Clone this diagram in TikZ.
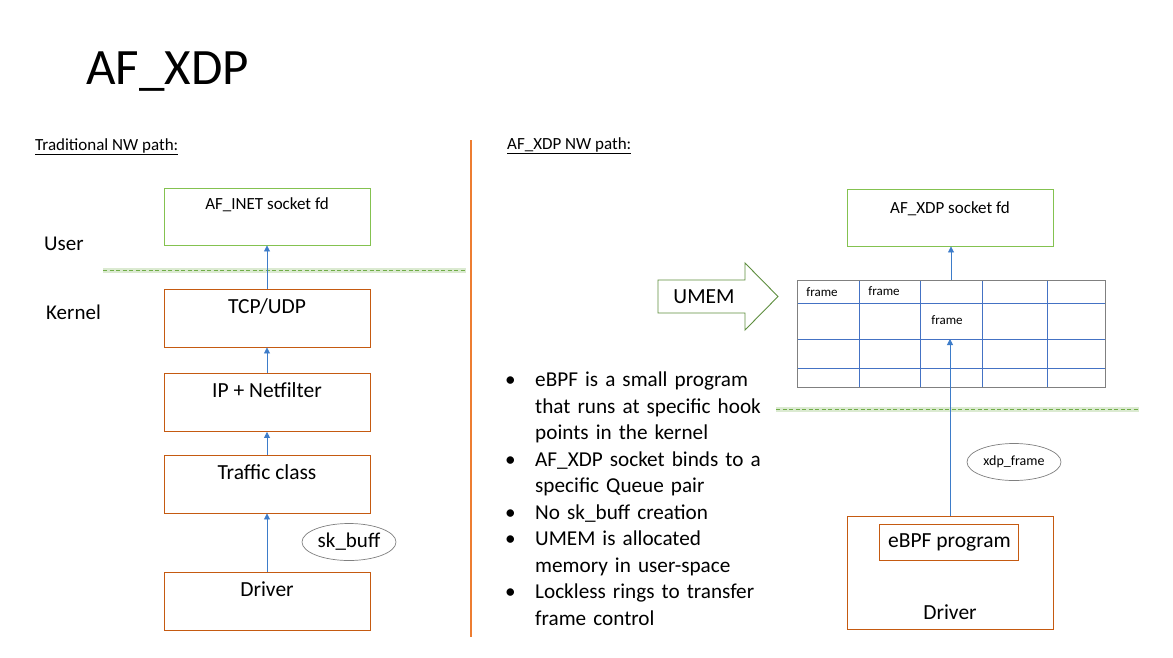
\documentclass[tikz,border=0pt]{standalone}
\usepackage{fontspec}
\setmainfont{Carlito}
\usepackage{enumitem}
\usetikzlibrary{arrows.meta,shapes.geometric}

\definecolor{boxorange}{HTML}{C55A11}
\definecolor{boxgreen}{HTML}{84C250}
\definecolor{flowblue}{HTML}{3D7CC9}
\definecolor{splitorange}{HTML}{ED7D31}
\definecolor{bubblegray}{HTML}{808080}
\definecolor{ringblue}{HTML}{4472C4}
\definecolor{umemgreen}{HTML}{5E8E3E}
\definecolor{rimgreen}{HTML}{70AD47}

\tikzset{
  kbox/.style={draw=boxorange, line width=0.9pt, minimum width=206pt, minimum height=58pt, inner sep=0pt},
  ubox/.style={draw=boxgreen, line width=0.9pt, minimum width=206pt, minimum height=57pt, inner sep=0pt},
  intext/.style={anchor=center, inner sep=0pt, font=\fontsize{21.5}{26}\selectfont},
  bubble/.style={ellipse, draw=bubblegray, line width=0.7pt, inner sep=0pt, minimum width=94pt, minimum height=37pt},
  flow/.style={draw=flowblue, line width=0.8pt, -{Triangle[width=6pt,length=6pt]}},
  glow/.style={draw=rimgreen!45, line width=5pt, opacity=0.55},
  rim/.style={draw=rimgreen, line width=0.9pt, dash pattern=on 4pt off 2.5pt},
  cell/.style={inner sep=0pt, font=\fontsize{13}{15}\selectfont}
}

\begin{document}
\begin{tikzpicture}[x=1pt, y=-1pt]
    \useasboundingbox[fill=white] (0,0) rectangle (1173,657);

    \node (title) [anchor=base west, inner sep=0pt, font=\fontsize{51}{60}\selectfont] at (86,84.3) {AF\_XDP};

    % traditional path
    \node (oldhead) [anchor=west, inner sep=0pt, font=\fontsize{17}{20}\selectfont] at (35,147) {\underline{Traditional NW path:}};
    \node (user) [anchor=west, inner sep=0pt, font=\fontsize{21}{25}\selectfont] at (44,244) {User};
    \node (kernel) [anchor=west, inner sep=0pt, font=\fontsize{21}{25}\selectfont] at (46,312) {Kernel};

    \node (inet) [ubox, label={[intext, font=\fontsize{17}{20}\selectfont, yshift=-17pt]north:AF\_INET socket fd}] at (267,216.5) {};
    \node (tcp) [kbox, label={[intext, yshift=-18pt]north:TCP/UDP}] at (267,318) {};
    \node (ipnf) [kbox, label={[intext, yshift=-17.5pt]north:IP + Netfilter}] at (267,402.5) {};
    \node (tc) [kbox, label={[intext, yshift=-17.5pt]north:Traffic class}] at (267,484) {};
    \node (drvL) [kbox, label={[intext, yshift=-18pt]north:Driver}] at (267,601) {};
    \node (skb) [bubble, font=\fontsize{21}{25}\selectfont] at (349,542) {sk\_buff};

    \draw[glow] (103,270) -- (466,270);
    \draw[rim] (103,270) -- (466,270);

    \draw[flow] (drvL.north) -- (tc.south);
    \draw[flow] (tc.north) -- (ipnf.south);
    \draw[flow] (ipnf.north) -- (tcp.south);
    \draw[flow] (tcp.north) -- (inet.south);

    \draw[draw=splitorange, line width=1.2pt] (471,140) -- (471,637);

    % af_xdp path
    \node (xdphead) [anchor=west, inner sep=0pt, font=\fontsize{17}{20}\selectfont] at (507,146) {\underline{AF\_XDP NW path:}};
    \node (xsock) [ubox, label={[intext, font=\fontsize{17}{20}\selectfont, yshift=-20pt]north:AF\_XDP socket fd}] at (950,217.5) {};

    \draw[draw=umemgreen, line width=0.9pt, fill=white] (658,280) -- (745,280) -- (745,263) -- (778,296.5) -- (745,330) -- (745,313) -- (658,313) -- cycle;
    \node (umem) [inner sep=0pt, font=\fontsize{21.5}{26}\selectfont] at (704,297) {UMEM};

    \node (ring) [draw=bubblegray, line width=0.8pt, minimum width=308pt, minimum height=107pt, inner sep=0pt] at (951,333.5) {};
    \foreach \gx in {859,920,982,1047}
        \draw[ringblue, line width=0.8pt] (\gx,280.5) -- (\gx,386.5);
    \foreach \gy in {303,339,368}
        \draw[ringblue, line width=0.8pt] (797.5,\gy) -- (1104.5,\gy);
    \draw[bubblegray, line width=0.8pt] (797,280) rectangle (1105,387);
    \node (f1) [cell] at (822,292) {frame};
    \node (f2) [cell] at (884,291) {frame};
    \node (f3) [cell] at (947,320) {frame};
    \coordinate (hit) at (951,339);

    \draw[glow] (776,409) -- (1139,409);
    \draw[rim] (776,409) -- (1139,409);

    \node (drvR) [kbox, minimum height=113pt, label={[intext, yshift=17pt]south:Driver}] at (950,572.5) {};
    \node (ebpf) [kbox, minimum width=139pt, minimum height=36pt, font=\fontsize{21.5}{26}\selectfont] at (948.5,542) {\hspace*{2pt}eBPF program};
    \node (xdpf) [bubble, font=\fontsize{14}{17}\selectfont] at (1014,462) {xdp\_frame};

    \draw[flow] (ring.north) -- (ring.north |- xsock.south);
    \draw[flow] (drvR.north) -- (drvR.north |- hit);

    \node (notes) [anchor=north west, inner sep=0pt, text width=280pt, font=\fontsize{21.2}{26.5}\selectfont] at (505,360) {%
        \begin{itemize}[label=\textbullet, leftmargin=30pt, labelindent=0pt, labelwidth=12pt, labelsep=*, itemsep=0pt, parsep=0pt, topsep=0pt, partopsep=0pt]
            \item eBPF is a small program\newline that runs at specific hook\newline points in the kernel
            \item AF\_XDP socket binds to a\newline specific Queue pair
            \item No sk\_buff creation
            \item UMEM is allocated\newline memory in user-space
            \item Lockless rings to transfer\newline frame control
        \end{itemize}};
\end{tikzpicture}
\end{document}
